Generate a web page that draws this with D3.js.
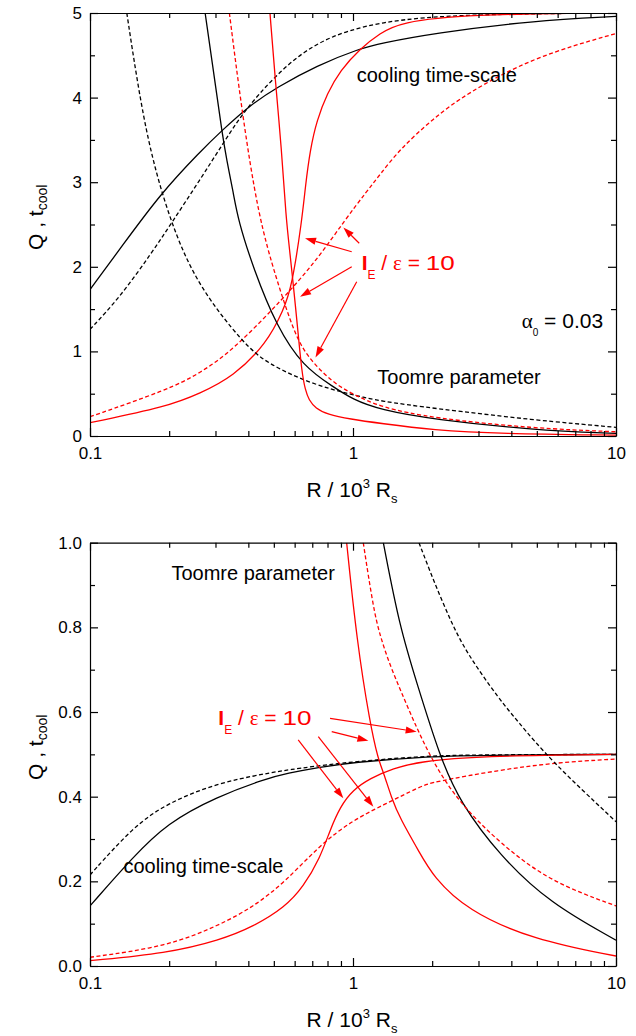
<!DOCTYPE html>
<html>
<head>
<meta charset="utf-8">
<script src="https://cdn.jsdelivr.net/npm/d3@7"></script>
<style>
body { margin: 0; background: #fff; }
svg text { font-family: "Liberation Sans", Arial, sans-serif; white-space: pre; }
</style>
</head>
<body>
<div id="chart"></div>
<script>
// x: R / 10^3 Rs (log), y: Q or t_cool
var xTicks = [0.1, 1, 10];
var xMinor = [0.2, 0.3, 0.4, 0.5, 0.6, 0.7, 0.8, 0.9, 2, 3, 4, 5, 6, 7, 8, 9];
var topYTicks = [0, 1, 2, 3, 4, 5];
var topYMinor = [0.5, 1.5, 2.5, 3.5, 4.5];
var botYTicks = [0, 0.2, 0.4, 0.6, 0.8, 1.0];
var botYMinor = [0.1, 0.3, 0.5, 0.7, 0.9];

// upper panel, alpha_0 = 0.03
var topCoolBlackSolid = [[0.1,1.73],[0.132,2.24],[0.185,2.86],[0.262,3.36],[0.317,3.61],[0.406,3.91],[0.513,4.12],[0.728,4.38],[1.064,4.58],[1.267,4.64],[2.02,4.76],[4.85,4.91],[10,4.96]];
var topCoolBlackDashed = [[0.1,1.26],[0.13,1.64],[0.172,2.17],[0.2045,2.52],[0.262,3.03],[0.321,3.46],[0.383,3.83],[0.505,4.26],[0.728,4.68],[1.267,4.91],[2.7,4.985],[10,5.0]];
var topCoolRedSolid = [[0.1,0.157],[0.196,0.346],[0.262,0.504],[0.35,0.70],[0.47,1.095],[0.544,1.49],[0.585,1.76],[0.6395,2.55],[0.659,2.95],[0.687,3.38],[0.728,3.73],[0.798,4.05],[0.894,4.32],[1.064,4.58],[1.267,4.76],[1.506,4.89],[2.7,4.985],[10,5.0]];
var topCoolRedDashed = [[0.1,0.228],[0.196,0.543],[0.262,0.741],[0.35,1.016],[0.544,1.627],[0.728,2.079],[0.931,2.551],[1.127,2.89],[1.267,3.09],[1.506,3.39],[2.02,3.753],[2.7,4.048],[4.85,4.48],[10,4.757]];
var topToomreBlackSolid = [[0.274,5.0],[0.303,4.05],[0.317,3.61],[0.331,3.26],[0.351,2.87],[0.366,2.55],[0.418,1.98],[0.513,1.29],[0.647,0.82],[0.842,0.58],[1.0,0.43],[1.267,0.31],[2.02,0.195],[4.85,0.071],[10,0.03]];
var topToomreBlackDashed = [[0.138,5.0],[0.155,3.97],[0.175,3.18],[0.21,2.39],[0.262,1.745],[0.383,1.095],[0.47,0.86],[0.687,0.62],[1.0,0.484],[1.267,0.413],[2.02,0.327],[4.85,0.189],[10,0.103]];
var topToomreRedSolid = [[0.4834,5.0],[0.505,4.245],[0.5355,3.38],[0.5556,2.59],[0.576,2.16],[0.5975,1.686],[0.617,1.25],[0.6395,0.74],[0.659,0.543],[0.6795,0.425],[0.721,0.327],[0.798,0.256],[0.974,0.2],[1.267,0.15],[2.02,0.07],[3.62,0.027],[10,0.01]];
var topToomreRedDashed = [[0.3388,5.0],[0.3775,3.85],[0.4365,2.59],[0.513,1.843],[0.576,1.37],[0.647,0.977],[0.8415,0.623],[1.0,0.496],[1.267,0.34],[2.02,0.21],[4.85,0.09],[10,0.05]];

// lower panel
var botCoolBlackSolid = [[0.1,0.142],[0.146,0.258],[0.196,0.337],[0.303,0.40],[0.47,0.443],[0.56,0.455],[0.749,0.47],[1.0,0.481],[1.8,0.494],[3.0,0.498],[10,0.50]];
var botCoolBlackDashed = [[0.1,0.215],[0.146,0.329],[0.196,0.384],[0.303,0.432],[0.47,0.455],[0.56,0.463],[0.867,0.479],[1.8,0.496],[3.0,0.499],[10,0.50]];
var botCoolRedSolid = [[0.1,0.0125],[0.196,0.030],[0.312,0.061],[0.418,0.093],[0.551,0.139],[0.6475,0.187],[0.749,0.255],[0.818,0.321],[0.893,0.376],[1.0,0.416],[1.16,0.443],[1.42,0.467],[1.8,0.483],[3.0,0.496],[10,0.50]];
var botCoolRedDashed = [[0.1,0.0206],[0.196,0.0456],[0.312,0.097],[0.418,0.14],[0.551,0.198],[0.749,0.286],[1.0,0.345],[1.341,0.384],[1.8,0.424],[2.02,0.435],[3.62,0.463],[5.76,0.48],[10,0.489]];
var botToomreBlackSolid = [[1.304,1.0],[1.506,0.80],[1.746,0.67],[2.14,0.494],[2.55,0.387],[3.62,0.26],[5.61,0.148],[10,0.061]];
var botToomreBlackDashed = [[1.782,1.0],[2.02,0.912],[2.342,0.817],[2.705,0.739],[3.623,0.628],[4.193,0.581],[5.61,0.487],[10,0.341]];
var botToomreRedSolid = [[0.946,1.0],[1.033,0.77],[1.16,0.573],[1.248,0.487],[1.304,0.459],[1.403,0.396],[1.506,0.35],[1.798,0.266],[2.02,0.211],[2.705,0.132],[4.85,0.0614],[10,0.0236]];
var botToomreRedDashed = [[1.094,1.0],[1.195,0.845],[1.267,0.78],[1.383,0.71],[1.532,0.645],[1.696,0.58],[2.02,0.479],[2.55,0.384],[3.62,0.29],[5.61,0.199],[10,0.142]];

var RED = "#ff0000";

var svg = d3.select("#chart").append("svg")
    .attr("width", 636)
    .attr("height", 1036)
    .style("background-color", "#fff");

var panels = [
  {
    id: "top", top: 13, bottom: 436, yDomain: [0, 5],
    yTicks: topYTicks, yMinor: topYMinor, yFormat: d3.format("d"),
    series: [
      {values: topCoolBlackSolid, color: "#000"},
      {values: topCoolBlackDashed, color: "#000", dashed: true},
      {values: topCoolRedSolid, color: RED},
      {values: topCoolRedDashed, color: RED, dashed: true},
      {values: topToomreBlackSolid, color: "#000"},
      {values: topToomreBlackDashed, color: "#000", dashed: true},
      {values: topToomreRedSolid, color: RED},
      {values: topToomreRedDashed, color: RED, dashed: true}
    ],
    cool: [1.033, 4.18], toomre: [1.237, 0.611], ratio: [1.079, 1.962], alpha: [4.38, 1.276],
    arrows: [
      [[0.989, 2.178], [0.657, 2.337]],
      [[0.989, 2.0], [0.629, 1.646]],
      [[1.033, 1.824], [0.72, 0.928]],
      [[1.056, 2.278], [0.919, 2.464]]
    ]
  },
  {
    id: "bot", top: 542.7, bottom: 966, yDomain: [0, 1],
    yTicks: botYTicks, yMinor: botYMinor, yFormat: d3.format(".1f"),
    series: [
      {values: botCoolBlackSolid, color: "#000"},
      {values: botCoolBlackDashed, color: "#000", dashed: true},
      {values: botCoolRedSolid, color: RED},
      {values: botCoolRedDashed, color: RED, dashed: true},
      {values: botToomreBlackSolid, color: "#000"},
      {values: botToomreBlackDashed, color: "#000", dashed: true},
      {values: botToomreRedSolid, color: RED},
      {values: botToomreRedDashed, color: RED, dashed: true}
    ],
    cool: [0.134, 0.219], toomre: [0.204, 0.913], ratio: [0.3075, 0.569],
    arrows: [
      [[0.818, 0.585], [1.746, 0.5535]],
      [[0.83, 0.5535], [1.144, 0.532]],
      [[0.619, 0.534], [0.919, 0.396]],
      [[0.738, 0.5417], [1.195, 0.3763]]
    ]
  }
];

function styleAxis(sel) {
  sel.selectAll("path, line").attr("stroke", "#000").attr("stroke-width", 1.2);
  sel.selectAll("text").attr("font-size", 17).attr("fill", "#000");
}

function addAxis(g, make, scale, transform, major, minor, fmt, pad) {
  g.append("g").attr("transform", transform)
    .call(make(scale).tickValues(minor).tickSizeInner(-5).tickSizeOuter(0).tickFormat(""))
    .call(styleAxis)
    .select(".domain").remove();
  g.append("g").attr("transform", transform)
    .call(make(scale).tickValues(major).tickSizeInner(-8).tickSizeOuter(0)
      .tickPadding(pad || 3).tickFormat(fmt || ""))
    .call(styleAxis);
}

function drawArrow(g, x, y, a) {
  var x1 = x(a[0][0]), y1 = y(a[0][1]), x2 = x(a[1][0]), y2 = y(a[1][1]);
  var dx = x2 - x1, dy = y2 - y1, len = Math.sqrt(dx * dx + dy * dy);
  var ux = dx / len, uy = dy / len, hl = 11, hw = 3.6;
  var bx = x2 - ux * hl, by = y2 - uy * hl;
  g.append("line")
    .attr("x1", x1).attr("y1", y1).attr("x2", bx).attr("y2", by)
    .attr("stroke", RED).attr("stroke-width", 1.2);
  g.append("path")
    .attr("d", "M" + x2 + "," + y2 + "L" + (bx - uy * hw) + "," + (by + ux * hw) +
      "L" + (bx + uy * hw) + "," + (by - ux * hw) + "Z")
    .attr("fill", RED);
}

panels.forEach(function(p) {
  var x = d3.scaleLog().domain([0.1, 10]).range([90, 616]);
  var y = d3.scaleLinear().domain(p.yDomain).range([p.bottom, p.top]);
  var g = svg.append("g");

  g.append("clipPath").attr("id", "clip-" + p.id)
    .append("rect")
    .attr("x", 90).attr("y", p.top)
    .attr("width", 526).attr("height", p.bottom - p.top);

  var line = d3.line()
    .x(d => x(d[0]))
    .y(d => y(d[1]))
    .curve(d3.curveBasis);

  g.append("g").attr("clip-path", "url(#clip-" + p.id + ")")
    .selectAll("path")
    .data(p.series)
    .join("path")
    .attr("d", s => line(s.values))
    .attr("fill", "none")
    .attr("stroke", s => s.color)
    .attr("stroke-width", 1.3)
    .attr("stroke-dasharray", s => s.dashed ? "4,2.5" : null);

  // frame, ticks point inwards on all four sides
  addAxis(g, d3.axisBottom, x, "translate(0," + p.bottom + ")", xTicks, xMinor, d => String(d), 11);
  addAxis(g, d3.axisTop, x, "translate(0," + p.top + ")", xTicks, xMinor);
  addAxis(g, d3.axisLeft, y, "translate(90,0)", p.yTicks, p.yMinor, p.yFormat, 8);
  addAxis(g, d3.axisRight, y, "translate(616,0)", p.yTicks, p.yMinor);

  // axis titles
  var xt = g.append("text")
    .attr("x", 352).attr("y", p.bottom + 61)
    .attr("text-anchor", "middle")
    .attr("font-size", 21);
  xt.append("tspan").text("R / 10");
  xt.append("tspan").attr("font-size", 13).attr("dy", -9).text("3");
  xt.append("tspan").attr("dy", 9).text(" R");
  xt.append("tspan").attr("font-size", 13).attr("dy", 6).text("s");

  var yt = g.append("text")
    .attr("transform", "translate(43," + (p.bottom - 186) + ") rotate(-90)")
    .attr("font-size", 21);
  yt.append("tspan").text("Q , t");
  yt.append("tspan").attr("font-size", 14).attr("dy", 4).text("cool");

  // annotations
  g.append("text")
    .attr("x", x(p.cool[0])).attr("y", y(p.cool[1]))
    .attr("font-size", 20)
    .text("cooling time-scale");
  g.append("text")
    .attr("x", x(p.toomre[0])).attr("y", y(p.toomre[1]))
    .attr("font-size", 20)
    .text("Toomre parameter");

  var rt = g.append("text")
    .attr("x", x(p.ratio[0])).attr("y", y(p.ratio[1]))
    .attr("font-size", 21)
    .attr("fill", RED);
  rt.append("tspan").attr("font-weight", "bold").text("I");
  rt.append("tspan").attr("font-size", 12).attr("dy", 9).text("E");
  rt.append("tspan").attr("dy", -9).text(" / ");
  rt.append("tspan").attr("font-family", "Liberation Serif, serif").text("\u03b5");
  rt.append("tspan").text(" = ");
  rt.append("tspan").attr("textLength", 29).attr("lengthAdjust", "spacingAndGlyphs").text("10");

  p.arrows.forEach(a => drawArrow(g, x, y, a));

  if (p.alpha) {
    var at = g.append("text")
      .attr("x", x(p.alpha[0])).attr("y", y(p.alpha[1]))
      .attr("font-size", 21);
    at.append("tspan").attr("font-family", "Liberation Serif, serif").text("\u03b1");
    at.append("tspan").attr("font-size", 10).attr("dy", 8).text("0");
    at.append("tspan").attr("dy", -8).text(" = 0.03");
  }
});
</script>
</body>
</html>
